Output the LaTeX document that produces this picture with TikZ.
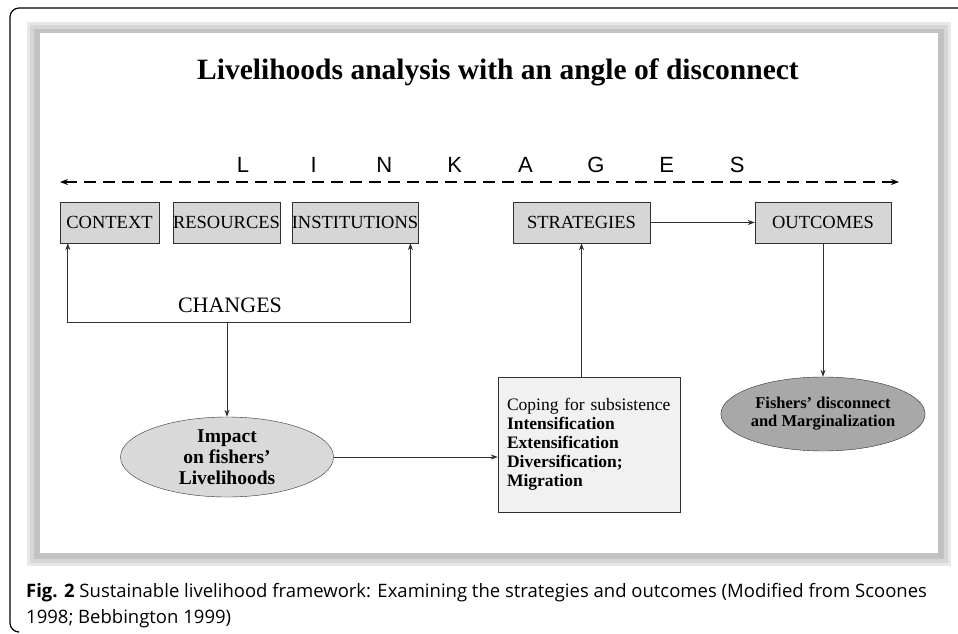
\documentclass[tikz,border=0pt]{standalone}
\usepackage{fontspec}
\setmainfont{Liberation Serif}
\newfontfamily\linkfont{Liberation Sans}
\newfontfamily\capfont{Open Sans}
\usetikzlibrary{positioning, arrows.meta, shapes.geometric, calc}

\definecolor{boxgray}{HTML}{D6D6D6}
\definecolor{impactgray}{HTML}{D9D9D9}
\definecolor{fishgray}{HTML}{A8A8A8}
\definecolor{copegray}{HTML}{F1F1F1}
\definecolor{linegray}{HTML}{303030}

\tikzset{
  topbox/.style={rectangle, draw=linegray, fill=boxgray, minimum height=41pt, inner sep=0pt, font=\fontsize{18.5}{21}\selectfont},
  arr/.style={draw=linegray, line width=0.8pt, -{Stealth[length=7pt,width=5pt]}},
  linkletter/.style={font=\linkfont\fontsize{22}{25}\selectfont, anchor=base},
}

\begin{document}
\begin{tikzpicture}[x=1pt, y=-1pt]

\useasboundingbox (0,0) rectangle (958,634);

% outer frame
\draw[line width=1.2pt, rounded corners=9pt] (962,8) -- (10,8) -- (10,632) -- (18,632);

% slide with shadow
\fill[gray!18] (27,22) rectangle (951,566);
\fill[gray!32] (30,25) rectangle (948,563);
\fill[gray!48] (34,29) rectangle (944,559);
\fill[white] (40,33) rectangle (938,553);

\node[font=\bfseries\fontsize{29.5}{33}\selectfont, anchor=base] (title) at (498,79) {Livelihoods analysis with an angle of disconnect};

% linkages
\coordinate (linkL) at (60,182);
\coordinate (linkR) at (899,182);
\draw[line width=2pt, dash pattern=on 12pt off 7pt, {Stealth[length=8pt,width=6pt]}-{Stealth[length=8pt,width=6pt]}] (linkL) -- (linkR);
\foreach \c [count=\i] in {L,I,N,K,A,G,E,S}
  \node[linkletter] (l\i) at ({243+(\i-1)*70.6},172) {\c};

% top row
\node[topbox, minimum width=99pt] (context) at (109.5,222.5) {CONTEXT};
\node[topbox, minimum width=107pt] (resources) at (226.5,222.5) {RESOURCES};
\node[topbox, minimum width=122pt] (institutions) at (355,222.5) {INSTITUTIONS};
\node[topbox, minimum width=137pt] (strategies) at (581.5,222.5) {STRATEGIES};
\node[topbox, minimum width=136pt] (outcomes) at (823,222.5) {OUTCOMES};

% changes
\node[font=\fontsize{22}{26}\selectfont, anchor=base] (changes) at (230,312) {CHANGES};
\coordinate (split) at (227,322);

\node[ellipse, draw=linegray, fill=impactgray, minimum width=213pt, minimum height=80pt, inner sep=0pt,
  align=center, font=\bfseries\fontsize{19.5}{21}\selectfont] (impact) at (227,457)
  {Impact\\on fishers'\\Livelihoods};

\node[rectangle, draw=linegray, fill=copegray, text width=164pt, inner xsep=9pt, minimum height=135pt,
  align=left, font=\fontsize{17.5}{19}\selectfont] (coping) at (589,444.5)
  {Coping for subsistence\\ \textbf{Intensification}\\ \textbf{Extensification}\\ \textbf{Diversification;}\\ \textbf{Migration}};

\node[ellipse, draw=linegray, fill=fishgray, minimum width=197pt, minimum height=74pt, inner sep=0pt,
  align=center, font=\bfseries\fontsize{16.5}{18}\selectfont] (fishers) at (823,414)
  {Fishers' disconnect\\and Marginalization};

% connectors
\draw[arr] (split) -| ([xshift=8pt]context.south west);
\draw[arr] (split) -| ([xshift=-8pt]institutions.south east);
\draw[arr] (split) -- (impact.north);
\draw[arr] (impact.east) -- (impact.east -| coping.west);
\draw[arr] (coping.north -| strategies.south) -- (strategies.south);
\draw[arr] (strategies.east) -- (outcomes.west);
\draw[arr] (outcomes.south) -- (fishers.north);

% caption
\node[anchor=base west, font=\capfont\fontsize{18.5}{21}\selectfont, inner sep=0pt] (cap1) at (26,597)
  {\textbf{Fig. 2} Sustainable livelihood framework: Examining the strategies and outcomes (Modified from Scoones};
\node[anchor=base west, font=\capfont\fontsize{18.5}{21}\selectfont, inner sep=0pt] (cap2) at (26,623)
  {1998; Bebbington 1999)};

\end{tikzpicture}
\end{document}
